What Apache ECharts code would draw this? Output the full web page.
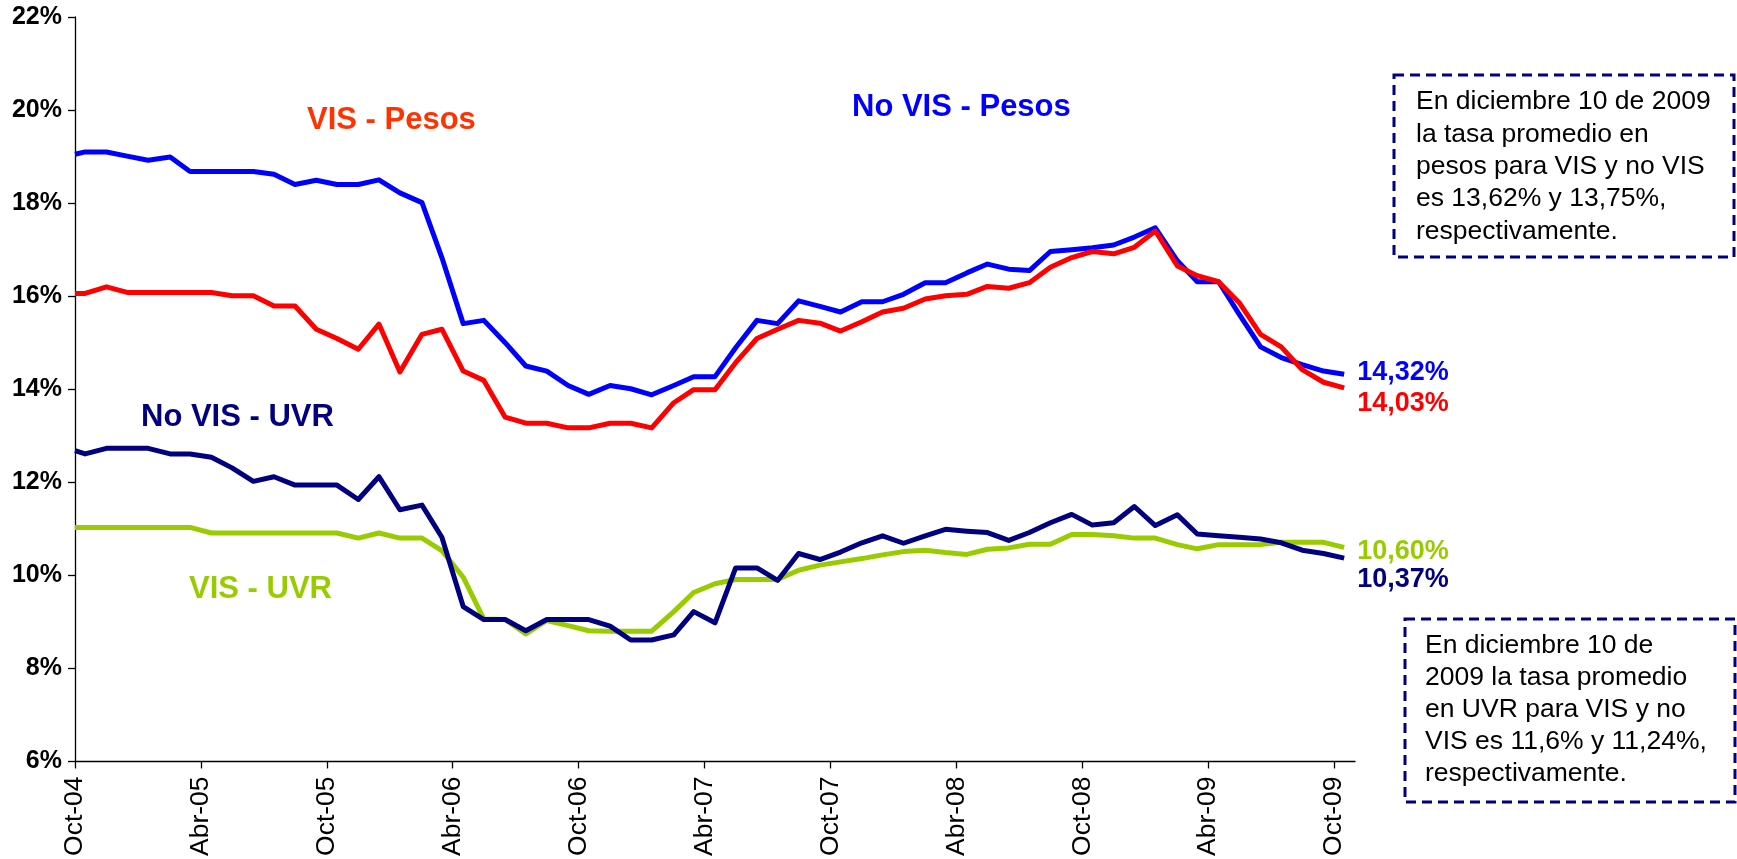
<!DOCTYPE html>
<html>
<head>
<meta charset="utf-8">
<script src="https://cdn.jsdelivr.net/npm/echarts@6/dist/echarts.min.js"></script>
<style>
  html, body { margin: 0; padding: 0; background: #ffffff; }
  #chart { width: 1737px; height: 859px; }
</style>
</head>
<body>
<div id="chart"></div>
<script>
// ---- Data ----
const fechas = [
  '2004-10-01','2004-10-16','2004-11-16','2004-12-16',
  '2005-01-16','2005-02-16','2005-03-16','2005-04-16','2005-05-16','2005-06-16','2005-07-16','2005-08-16','2005-09-16','2005-10-16','2005-11-16','2005-12-16',
  '2006-01-16','2006-02-16','2006-03-16','2006-04-16','2006-05-16','2006-06-16','2006-07-16','2006-08-16','2006-09-16','2006-10-16','2006-11-16','2006-12-16',
  '2007-01-16','2007-02-16','2007-03-16','2007-04-16','2007-05-16','2007-06-16','2007-07-16','2007-08-16','2007-09-16','2007-10-16','2007-11-16','2007-12-16',
  '2008-01-16','2008-02-16','2008-03-16','2008-04-16','2008-05-16','2008-06-16','2008-07-16','2008-08-16','2008-09-16','2008-10-16','2008-11-16','2008-12-16',
  '2009-01-16','2009-02-16','2009-03-16','2009-04-16','2009-05-16','2009-06-16','2009-07-16','2009-08-16','2009-09-16','2009-10-16'
];

const noVisPesos = [
  19.05, 19.10, 19.10, 19.01, 18.92, 18.99, 18.68, 18.68, 18.68, 18.68,
  18.62, 18.40, 18.49, 18.40, 18.40, 18.50, 18.22, 18.01, 16.83, 15.41,
  15.48, 15.00, 14.50, 14.39, 14.08, 13.89, 14.08, 14.01, 13.88, 14.08,
  14.27, 14.27, 14.89, 15.48, 15.41, 15.90, 15.78, 15.66, 15.88, 15.88,
  16.04, 16.29, 16.29, 16.50, 16.69, 16.58, 16.55, 16.96, 17.00, 17.04,
  17.10, 17.27, 17.47, 16.76, 16.31, 16.31, 15.61, 14.91, 14.68, 14.53,
  14.39, 14.32
];
const visPesos = [
  16.06, 16.06, 16.20, 16.08, 16.08, 16.08, 16.08, 16.08, 16.01, 16.01,
  15.79, 15.79, 15.29, 15.09, 14.86, 15.40, 14.37, 15.18, 15.29, 14.39,
  14.19, 13.40, 13.27, 13.27, 13.17, 13.17, 13.27, 13.27, 13.17, 13.71,
  13.99, 13.99, 14.57, 15.09, 15.29, 15.48, 15.42, 15.25, 15.45, 15.66,
  15.74, 15.94, 16.01, 16.04, 16.21, 16.17, 16.29, 16.62, 16.83, 16.96,
  16.91, 17.05, 17.40, 16.65, 16.44, 16.31, 15.86, 15.18, 14.91, 14.42,
  14.15, 14.03
];
const noVisUVR = [
  12.68, 12.61, 12.73, 12.73, 12.73, 12.61, 12.61, 12.54, 12.31, 12.02,
  12.12, 11.94, 11.94, 11.94, 11.63, 12.12, 11.41, 11.51, 10.82, 9.33,
  9.05, 9.05, 8.81, 9.05, 9.05, 9.05, 8.91, 8.61, 8.61, 8.72,
  9.22, 8.98, 10.16, 10.16, 9.89, 10.47, 10.34, 10.50, 10.70, 10.85,
  10.69, 10.85, 10.99, 10.95, 10.92, 10.75, 10.92, 11.13, 11.31, 11.08,
  11.13, 11.48, 11.07, 11.30, 10.89, 10.85, 10.82, 10.78, 10.70, 10.54,
  10.47, 10.37
];
const visUVR = [
  11.03, 11.03, 11.03, 11.03, 11.03, 11.03, 11.03, 10.91, 10.91, 10.91,
  10.91, 10.91, 10.91, 10.91, 10.80, 10.91, 10.80, 10.80, 10.53, 9.96,
  9.06, 9.05, 8.74, 9.03, 8.92, 8.81, 8.80, 8.80, 8.80, 9.22,
  9.63, 9.82, 9.91, 9.91, 9.91, 10.11, 10.22, 10.29, 10.36, 10.44,
  10.51, 10.54, 10.49, 10.45, 10.56, 10.59, 10.67, 10.67, 10.88, 10.88,
  10.85, 10.80, 10.80, 10.66, 10.57, 10.66, 10.66, 10.66, 10.71, 10.71,
  10.71, 10.60
];

const etiquetasX = ['Oct-04','Abr-05','Oct-05','Abr-06','Oct-06','Abr-07','Oct-07','Abr-08','Oct-08','Abr-09','Oct-09'];
const ticksY = [6, 8, 10, 12, 14, 16, 18, 20, 22];

const nota1 = ['En diciembre 10 de 2009', 'la tasa promedio en', 'pesos para VIS y no VIS', 'es 13,62% y 13,75%,', 'respectivamente.'];
const nota2 = ['En diciembre 10 de', '2009 la tasa promedio', 'en UVR para VIS y no', 'VIS es 11,6% y 11,24%,', 'respectivamente.'];

// ---- Helpers ----
function mesesDesdeInicio(s) {
  const [y, m, d] = s.split('-').map(Number);
  const dim = new Date(Date.UTC(y, m, 0)).getUTCDate();
  return (y - 2004) * 12 + (m - 10) + (d - 1) / dim;
}
const xs = fechas.map(mesesDesdeInicio);
const pares = arr => arr.map((v, i) => [xs[i], v]);
const fmt = v => v.toFixed(2).replace('.', ',') + '%';

const FONT = "'Liberation Sans', Arial, Helvetica, sans-serif";

function serie(name, data, color, dy) {
  return {
    name, type: 'line', data: pares(data), symbol: 'none',
    lineStyle: { color, width: 5, join: 'round' },
    itemStyle: { color },
    endLabel: {
      show: true, formatter: p => fmt(p.value[1]), color,
      fontFamily: FONT, fontWeight: 'bold', fontSize: 27,
      distance: 13, offset: [0, dy]
    },
    z: 3
  };
}

const chart = echarts.init(document.getElementById('chart'), null, { renderer: 'canvas' });
chart.setOption({
  animation: false,
  backgroundColor: '#ffffff',
  grid: { left: 75, top: 17, right: 382, bottom: 97, containLabel: false },
  xAxis: {
    type: 'value', min: 0, max: 61,
    axisLine: { show: true, lineStyle: { color: '#000', width: 1.3 } },
    axisTick: { show: true, length: 7, inside: false, lineStyle: { color: '#000', width: 1.3 },
      customValues: etiquetasX.map((_, i) => i * 6) },
    axisLabel: {
      customValues: etiquetasX.map((_, i) => i * 6),
      formatter: v => etiquetasX[Math.round(v / 6)] || '',
      rotate: 90, margin: 15, fontSize: 26.5, color: '#000', fontFamily: FONT
    },
    splitLine: { show: false }
  },
  yAxis: {
    type: 'value', min: ticksY[0], max: ticksY[ticksY.length - 1], interval: 2,
    axisLine: { show: true, lineStyle: { color: '#000', width: 1.3 } },
    axisTick: { show: true, length: 7, lineStyle: { color: '#000', width: 1.3 } },
    axisLabel: { formatter: v => v + '%', fontSize: 25, fontWeight: 'bold', color: '#000', margin: 13, fontFamily: FONT },
    splitLine: { show: false }
  },
  series: [
    serie('No VIS - Pesos', noVisPesos, '#0000FF', -2),
    serie('VIS - Pesos', visPesos, '#FF0000', 16),
    serie('VIS - UVR', visUVR, '#99CC00', 4),
    serie('No VIS - UVR', noVisUVR, '#000080', 21)
  ],
  graphic: [
    { type: 'text', left: 307, top: 105, style: { text: 'VIS - Pesos', fill: '#FF3300', font: "bold 31px " + FONT } },
    { type: 'text', left: 852, top: 92, style: { text: 'No VIS - Pesos', fill: '#0000FF', font: "bold 31px " + FONT } },
    { type: 'text', left: 141, top: 402, style: { text: 'No VIS - UVR', fill: '#000080', font: "bold 31px " + FONT } },
    { type: 'text', left: 189, top: 574, style: { text: 'VIS - UVR', fill: '#99CC00', font: "bold 31px " + FONT } },
    { type: 'rect', shape: { x: 1394, y: 75, width: 340, height: 182 },
      style: { fill: '#fff', stroke: '#000080', lineWidth: 3, lineDash: [10, 6] } },
    { type: 'text', x: 1416, y: 86, style: { text: nota1.join('\n'), fill: '#000', font: "26.5px " + FONT, lineHeight: 32.3, verticalAlign: 'top' } },
    { type: 'rect', shape: { x: 1405, y: 619, width: 330, height: 183 },
      style: { fill: '#fff', stroke: '#000080', lineWidth: 3, lineDash: [10, 6] } },
    { type: 'text', x: 1425, y: 630, style: { text: nota2.join('\n'), fill: '#000', font: "26.5px " + FONT, lineHeight: 32, verticalAlign: 'top' } }
  ]
});
</script>
</body>
</html>
